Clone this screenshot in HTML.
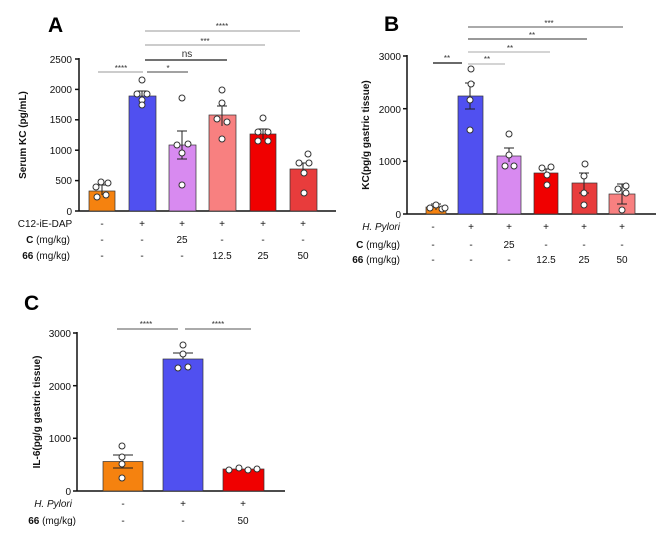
<!DOCTYPE html>
<html><head><meta charset="utf-8"><style>
html,body{margin:0;padding:0;background:#fff}
svg{display:block;font-family:"Liberation Sans",Arial,sans-serif}
.t{font-size:10px;fill:#111}
.b{font-weight:bold}
.s{font-size:8px;fill:#333}
</style></head><body>
<svg width="666" height="538" viewBox="0 0 666 538" xmlns="http://www.w3.org/2000/svg">
<!-- Panel A -->
<text x="48" y="32" style="font-size:21px;font-weight:bold">A</text>
<g stroke="#111" stroke-width="1.5" fill="none">
<line x1="79" y1="58" x2="79" y2="211"/><line x1="79" y1="211" x2="336" y2="211"/>
<line x1="75" y1="59" x2="79" y2="59"/><line x1="75" y1="89.4" x2="79" y2="89.4"/><line x1="75" y1="119.8" x2="79" y2="119.8"/><line x1="75" y1="150.2" x2="79" y2="150.2"/><line x1="75" y1="180.6" x2="79" y2="180.6"/><line x1="75" y1="211" x2="79" y2="211"/>
</g>
<g class="t" text-anchor="end"><text x="72" y="63">2500</text><text x="72" y="93">2000</text><text x="72" y="123">1500</text><text x="72" y="154">1000</text><text x="72" y="184">500</text><text x="72" y="215">0</text></g>
<text class="t b" transform="translate(26,135) rotate(-90)" text-anchor="middle">Serum KC (pg/mL)</text>
<g stroke="#333" stroke-width="0.7">
<rect x="89" y="191" width="26" height="20" fill="#f5820f"/>
<rect x="129" y="96" width="27" height="115" fill="#5050f0"/>
<rect x="169" y="145" width="27" height="66" fill="#d88af0"/>
<rect x="209" y="115" width="27" height="96" fill="#f88080"/>
<rect x="250" y="134" width="26" height="77" fill="#f00000"/>
<rect x="290" y="169" width="27" height="42" fill="#e83c3c"/>
</g>
<g stroke="#222" stroke-width="1" fill="none">
<path d="M102 185V195M97 185H107M142 91V100M137 91H147M182 131V159M177 131H187M177 159H187M222 106V126M217 106H227M263 129V139M258 129H268M303 163V176M298 163H308"/>
</g>
<g fill="#fff" stroke="#333" stroke-width="1">
<circle cx="96" cy="187" r="3"/><circle cx="101" cy="182" r="3"/><circle cx="108" cy="183" r="3"/><circle cx="97" cy="197" r="3"/><circle cx="106" cy="195" r="3"/>
<circle cx="142" cy="80" r="3"/><circle cx="137" cy="94" r="3"/><circle cx="147" cy="94" r="3"/><circle cx="142" cy="100" r="3"/><circle cx="142" cy="105" r="3"/>
<circle cx="182" cy="98" r="3"/><circle cx="177" cy="145" r="3"/><circle cx="188" cy="144" r="3"/><circle cx="182" cy="153" r="3"/><circle cx="182" cy="185" r="3"/>
<circle cx="222" cy="90" r="3"/><circle cx="222" cy="103" r="3"/><circle cx="217" cy="119" r="3"/><circle cx="227" cy="122" r="3"/><circle cx="222" cy="139" r="3"/>
<circle cx="263" cy="118" r="3"/><circle cx="258" cy="132" r="3"/><circle cx="268" cy="132" r="3"/><circle cx="258" cy="141" r="3"/><circle cx="268" cy="141" r="3"/>
<circle cx="308" cy="154" r="3"/><circle cx="299" cy="163" r="3"/><circle cx="309" cy="163" r="3"/><circle cx="304" cy="173" r="3"/><circle cx="304" cy="193" r="3"/>
</g>
<g stroke-width="1">
<line x1="145" y1="31" x2="300" y2="31" stroke="#999"/>
<line x1="145" y1="45" x2="265" y2="45" stroke="#999"/>
<line x1="145" y1="60" x2="227" y2="60" stroke="#444" stroke-width="1.5"/>
<line x1="147" y1="72" x2="188" y2="72" stroke="#444"/>
<line x1="98" y1="72" x2="143" y2="72" stroke="#999"/>
</g>
<g class="s" text-anchor="middle"><text x="222" y="29">****</text><text x="205" y="44">***</text><text x="187" y="57" style="font-size:10px">ns</text><text x="168" y="71">*</text><text x="121" y="71">****</text></g>
<g class="t" text-anchor="middle">
<text x="45" y="227">C12-iE-DAP</text><text x="102" y="227">-</text><text x="142" y="227">+</text><text x="182" y="227">+</text><text x="222" y="227">+</text><text x="263" y="227">+</text><text x="303" y="227">+</text>
<text x="102" y="243">-</text><text x="142" y="243">-</text><text x="182" y="243">25</text><text x="222" y="243">-</text><text x="263" y="243">-</text><text x="303" y="243">-</text>
<text x="102" y="259">-</text><text x="142" y="259">-</text><text x="182" y="259">-</text><text x="222" y="259">12.5</text><text x="263" y="259">25</text><text x="303" y="259">50</text>
</g>
<text class="t" x="70" y="243" text-anchor="end"><tspan class="b">C</tspan> (mg/kg)</text>
<text class="t" x="70" y="259" text-anchor="end"><tspan class="b">66</tspan> (mg/kg)</text>

<!-- Panel B -->
<text x="384" y="31" style="font-size:21px;font-weight:bold">B</text>
<g stroke="#111" stroke-width="1.5" fill="none">
<line x1="407" y1="55" x2="407" y2="214"/><line x1="407" y1="214" x2="656" y2="214"/>
<line x1="403" y1="56" x2="407" y2="56"/><line x1="403" y1="108.7" x2="407" y2="108.7"/><line x1="403" y1="161.3" x2="407" y2="161.3"/><line x1="403" y1="214" x2="407" y2="214"/>
</g>
<g class="t" text-anchor="end"><text x="401" y="60">3000</text><text x="401" y="113">2000</text><text x="401" y="165">1000</text><text x="401" y="218">0</text></g>
<text class="t b" transform="translate(369,135) rotate(-90)" text-anchor="middle">KC(pg/g gastric tissue)</text>
<g stroke="#333" stroke-width="0.7">
<rect x="426" y="207" width="20" height="7" fill="#f5820f"/>
<rect x="458" y="96" width="25" height="118" fill="#5050f0"/>
<rect x="497" y="156" width="24" height="58" fill="#d88af0"/>
<rect x="534" y="173" width="24" height="41" fill="#f00000"/>
<rect x="572" y="183" width="25" height="31" fill="#e83c3c"/>
<rect x="609" y="194" width="26" height="20" fill="#f88080"/>
</g>
<g stroke="#222" stroke-width="1" fill="none">
<path d="M436 204V210M431 204H441M470 83V109M465 83H475M465 109H475M509 148V162M504 148H514M546 169V177M541 169H551M584 173V193M579 173H589M579 193H589M622 184V204M617 184H627M617 204H627"/>
</g>
<g fill="#fff" stroke="#333" stroke-width="1">
<circle cx="430" cy="208" r="3"/><circle cx="436" cy="205" r="3"/><circle cx="442" cy="209" r="3"/><circle cx="445" cy="208" r="3"/>
<circle cx="471" cy="69" r="3"/><circle cx="471" cy="84" r="3"/><circle cx="470" cy="100" r="3"/><circle cx="470" cy="130" r="3"/>
<circle cx="509" cy="134" r="3"/><circle cx="509" cy="155" r="3"/><circle cx="505" cy="166" r="3"/><circle cx="514" cy="166" r="3"/>
<circle cx="542" cy="168" r="3"/><circle cx="551" cy="167" r="3"/><circle cx="547" cy="175" r="3"/><circle cx="547" cy="185" r="3"/>
<circle cx="585" cy="164" r="3"/><circle cx="584" cy="176" r="3"/><circle cx="584" cy="193" r="3"/><circle cx="584" cy="205" r="3"/>
<circle cx="618" cy="189" r="3"/><circle cx="626" cy="186" r="3"/><circle cx="626" cy="193" r="3"/><circle cx="622" cy="210" r="3"/>
</g>
<g stroke-width="1">
<line x1="468" y1="27" x2="623" y2="27" stroke="#555"/>
<line x1="468" y1="39" x2="587" y2="39" stroke="#333"/>
<line x1="468" y1="52" x2="550" y2="52" stroke="#aaa"/>
<line x1="468" y1="64" x2="505" y2="64" stroke="#aaa"/>
<line x1="433" y1="63" x2="462" y2="63" stroke="#111" stroke-width="1.3"/>
</g>
<g class="s" text-anchor="middle"><text x="549" y="26">***</text><text x="532" y="38">**</text><text x="510" y="51">**</text><text x="487" y="62">**</text><text x="447" y="61">**</text></g>
<g class="t" text-anchor="middle">
<text x="433" y="230">-</text><text x="471" y="230">+</text><text x="509" y="230">+</text><text x="546" y="230">+</text><text x="584" y="230">+</text><text x="622" y="230">+</text>
<text x="433" y="248">-</text><text x="471" y="248">-</text><text x="509" y="248">25</text><text x="546" y="248">-</text><text x="584" y="248">-</text><text x="622" y="248">-</text>
<text x="433" y="263">-</text><text x="471" y="263">-</text><text x="509" y="263">-</text><text x="546" y="263">12.5</text><text x="584" y="263">25</text><text x="622" y="263">50</text>
</g>
<text class="t" x="400" y="230" text-anchor="end" font-style="italic">H. Pylori</text>
<text class="t" x="400" y="248" text-anchor="end"><tspan class="b">C</tspan> (mg/kg)</text>
<text class="t" x="400" y="263" text-anchor="end"><tspan class="b">66</tspan> (mg/kg)</text>

<!-- Panel C -->
<text x="24" y="310" style="font-size:21px;font-weight:bold">C</text>
<g stroke="#111" stroke-width="1.5" fill="none">
<line x1="77" y1="332" x2="77" y2="491"/><line x1="77" y1="491" x2="285" y2="491"/>
<line x1="73" y1="333" x2="77" y2="333"/><line x1="73" y1="385.7" x2="77" y2="385.7"/><line x1="73" y1="438.3" x2="77" y2="438.3"/><line x1="73" y1="491" x2="77" y2="491"/>
</g>
<g class="t" text-anchor="end"><text x="71" y="337">3000</text><text x="71" y="390">2000</text><text x="71" y="442">1000</text><text x="71" y="495">0</text></g>
<text class="t b" transform="translate(40,412) rotate(-90)" text-anchor="middle">IL-6(pg/g gastric tissue)</text>
<g stroke="#333" stroke-width="0.7">
<rect x="103" y="461.5" width="40" height="29.5" fill="#f5820f"/>
<rect x="163" y="359" width="40" height="132" fill="#5050f0"/>
<rect x="223" y="469" width="41" height="22" fill="#f00000"/>
</g>
<g stroke="#222" stroke-width="1" fill="none">
<path d="M123 455V468M113 455H133M113 468H133M183 353V359M173 353H193"/>
</g>
<g fill="#fff" stroke="#333" stroke-width="1">
<circle cx="122" cy="446" r="3"/><circle cx="122" cy="457" r="3"/><circle cx="122" cy="464" r="3"/><circle cx="122" cy="478" r="3"/>
<circle cx="183" cy="345" r="3"/><circle cx="183" cy="354" r="3"/><circle cx="178" cy="368" r="3"/><circle cx="188" cy="367" r="3"/>
<circle cx="229" cy="470" r="3"/><circle cx="239" cy="468" r="3"/><circle cx="248" cy="470" r="3"/><circle cx="257" cy="469" r="3"/>
</g>
<g stroke="#555" stroke-width="1"><line x1="117" y1="329" x2="178" y2="329"/><line x1="185" y1="329" x2="251" y2="329"/></g>
<g class="s" text-anchor="middle"><text x="146" y="327">****</text><text x="218" y="327">****</text></g>
<g class="t" text-anchor="middle">
<text x="123" y="507">-</text><text x="183" y="507">+</text><text x="243" y="507">+</text>
<text x="123" y="524">-</text><text x="183" y="524">-</text><text x="243" y="524">50</text>
</g>
<text class="t" x="72" y="507" text-anchor="end" font-style="italic">H. Pylori</text>
<text class="t" x="76" y="524" text-anchor="end"><tspan class="b">66</tspan> (mg/kg)</text>
</svg>
</body></html>
